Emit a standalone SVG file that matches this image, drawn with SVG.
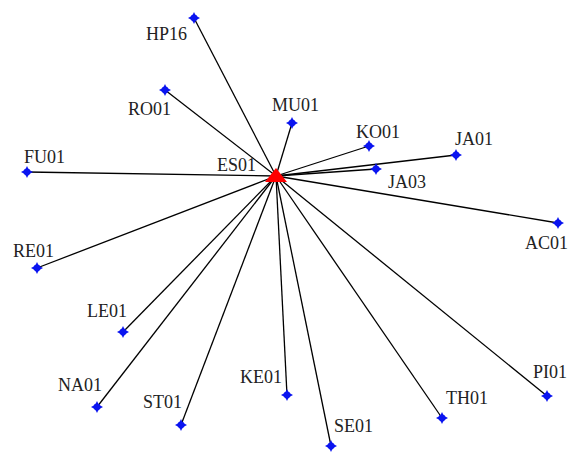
<svg xmlns="http://www.w3.org/2000/svg" width="573" height="452" viewBox="0 0 573 452">
<defs>
<style>
.lbl{font-family:"Liberation Serif","Times New Roman",serif;font-size:18px;fill:#222}
.edge{stroke:#000;stroke-width:1.3;fill:none}
.pt{fill:#0a14f0}
</style>
<g id="star"><path class="pt" d="M0,-6 L1.8,-2.2 L6,0 L1.8,2.2 L0,6 L-1.8,2.2 L-6,0 L-1.8,-2.2Z"/><circle class="pt" r="3.4"/></g>
</defs>
<rect width="573" height="452" fill="#fff"/>
<g id="connectors">
<line class="edge" x1="276" y1="176" x2="194" y2="18"/>
<line class="edge" x1="276" y1="176" x2="165" y2="90"/>
<line class="edge" x1="276" y1="176" x2="292" y2="123"/>
<line class="edge" x1="276" y1="176" x2="369" y2="146"/>
<line class="edge" x1="276" y1="176" x2="456" y2="155"/>
<line class="edge" x1="276" y1="176" x2="376" y2="169"/>
<line class="edge" x1="276" y1="176" x2="558" y2="223"/>
<line class="edge" x1="276" y1="176" x2="27" y2="172"/>
<line class="edge" x1="276" y1="176" x2="37" y2="268"/>
<line class="edge" x1="276" y1="176" x2="123" y2="332"/>
<line class="edge" x1="276" y1="176" x2="97" y2="407"/>
<line class="edge" x1="276" y1="176" x2="181" y2="425"/>
<line class="edge" x1="276" y1="176" x2="287" y2="395"/>
<line class="edge" x1="276" y1="176" x2="331" y2="446"/>
<line class="edge" x1="276" y1="176" x2="442" y2="418"/>
<line class="edge" x1="276" y1="176" x2="547" y2="396"/>
</g>
<g id="ES01"><polygon points="276,168 265,182 287,182" fill="#f00"/><text class="lbl" x="217" y="171">ES01</text></g>
<g id="HP16"><use href="#star" x="194" y="18"/><text class="lbl" x="146" y="40">HP16</text></g>
<g id="RO01"><use href="#star" x="165" y="90"/><text class="lbl" x="128" y="115">RO01</text></g>
<g id="MU01"><use href="#star" x="292" y="123"/><text class="lbl" x="272" y="111">MU01</text></g>
<g id="KO01"><use href="#star" x="369" y="146"/><text class="lbl" x="356" y="138">KO01</text></g>
<g id="JA01"><use href="#star" x="456" y="155"/><text class="lbl" x="455" y="145">JA01</text></g>
<g id="JA03"><use href="#star" x="376" y="169"/><text class="lbl" x="388" y="188">JA03</text></g>
<g id="AC01"><use href="#star" x="558" y="223"/><text class="lbl" x="525" y="249">AC01</text></g>
<g id="FU01"><use href="#star" x="27" y="172"/><text class="lbl" x="24" y="163">FU01</text></g>
<g id="RE01"><use href="#star" x="37" y="268"/><text class="lbl" x="13" y="257">RE01</text></g>
<g id="LE01"><use href="#star" x="123" y="332"/><text class="lbl" x="87" y="317">LE01</text></g>
<g id="NA01"><use href="#star" x="97" y="407"/><text class="lbl" x="58" y="391">NA01</text></g>
<g id="ST01"><use href="#star" x="181" y="425"/><text class="lbl" x="143" y="408">ST01</text></g>
<g id="KE01"><use href="#star" x="287" y="395"/><text class="lbl" x="240" y="383">KE01</text></g>
<g id="SE01"><use href="#star" x="331" y="446"/><text class="lbl" x="334" y="432">SE01</text></g>
<g id="TH01"><use href="#star" x="442" y="418"/><text class="lbl" x="446" y="404">TH01</text></g>
<g id="PI01"><use href="#star" x="547" y="396"/><text class="lbl" x="533" y="378">PI01</text></g>
</svg>
